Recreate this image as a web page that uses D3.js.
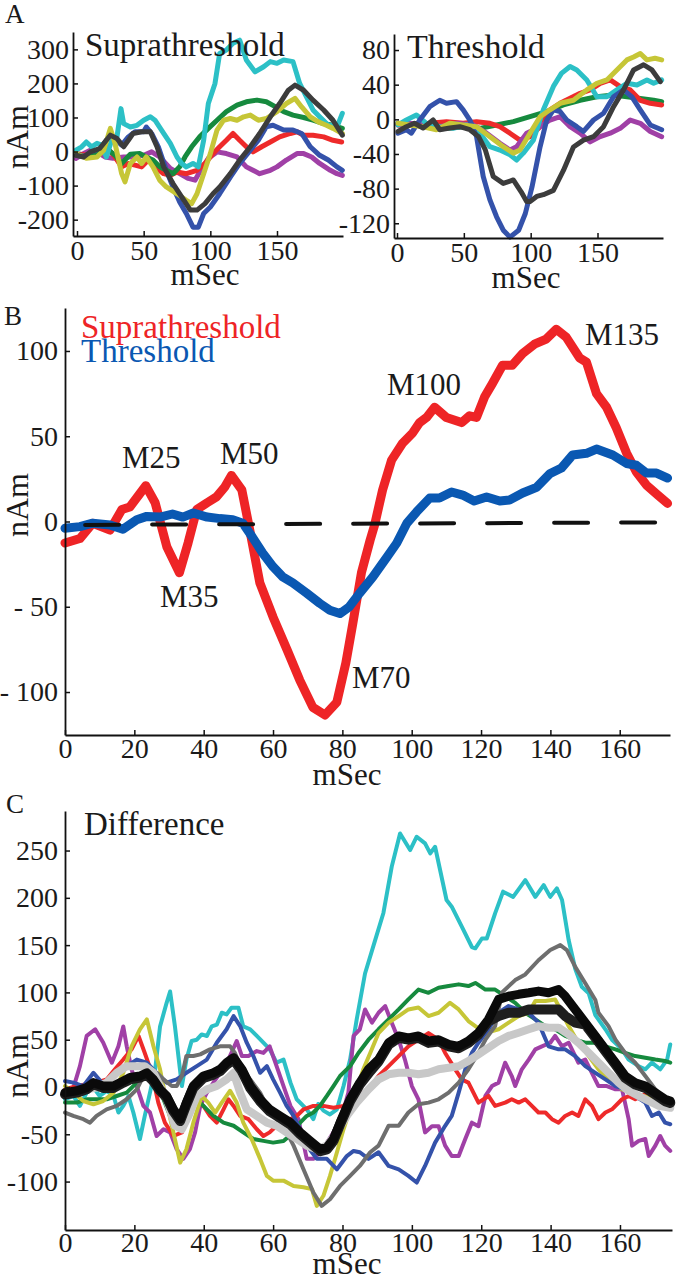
<!DOCTYPE html>
<html><head><meta charset="utf-8">
<script src="https://cdn.jsdelivr.net/npm/d3@7"></script>
<style>
html,body{margin:0;padding:0;background:#fff;}
svg{display:block;}
text{font-family:"Liberation Serif","Tinos","Times New Roman","Nimbus Roman","Nimbus Roman No9 L","DejaVu Serif","Noto Serif",serif;}
</style></head><body>
<svg id="c" width="676" height="1280"></svg>
<script>
// ---------- Panel A (left): Suprathreshold, per subject ----------
const aSupCyan=[[-0.75,4],[3.5,14],[7,28],[11,14],[15,24],[18.5,19],[22,-16],[26,33],[30,43],[33,126],[35,82],[40,72],[45,77],[50,92],[55,102],[58.5,92],[65,53],[70,24],[75,-16],[78.5,-35],[82,-45],[87,-35],[91,-45],[95,33],[98.5,141],[103.5,200],[107,288],[112,298],[117,318],[122,327],[127,269],[133.5,234],[140,249],[145,264],[150,259],[155,269],[162,264],[167,200],[172,161],[177,122],[182,102],[188.5,77],[193.5,77],[196,82],[199,112]];
const aSupGreen=[[-0.75,-11],[7,-16],[15,-11],[22,9],[28.5,-11],[33.5,-35],[40,-8],[47,-6],[52,-16],[57,-25],[62,-45],[67,-55],[72,-65],[77,-45],[81,-16],[86,14],[92,43],[98.5,68],[105,92],[112,117],[120,136],[127,146],[135,151],[142,146],[149,131],[155,117],[162,107],[170,100],[177,92],[185,82],[192,77],[199,68]];
const aSupYellow=[[-0.75,-6],[7,-20],[15,-16],[20,4],[25,68],[28.5,24],[33.5,-65],[36,-89],[40,-35],[45,-16],[48.5,-35],[52,-16],[57,-45],[62,-84],[67,-104],[75,-124],[82,-143],[86,-153],[90,-124],[95,-65],[100,-6],[105,63],[110,92],[115,97],[120,92],[125,102],[130,107],[136,92],[142,97],[150,117],[157,141],[163.5,156],[168.5,131],[175,102],[181,87],[187,77],[192,68],[199,53]];
const aSupRed=[[-0.75,-6],[7,-11],[15,-6],[22,14],[28.5,-16],[33.5,-45],[38.5,-35],[43.5,-40],[48.5,-45],[53.5,-25],[58.5,-45],[65,-65],[70,-70],[75,-60],[82,-65],[90,-55],[96,-35],[102,-6],[107,14],[112,33],[117,53],[122,33],[127,14],[132,-1],[138.5,14],[145,28],[152,43],[160,53],[165,58],[170,48],[177,48],[185,43],[192,33],[198.5,28]];
const aSupBlue=[[-0.75,-6],[7,-16],[15,-6],[22,33],[27,43],[33.5,19],[38.5,43],[43.5,58],[50,58],[52,72],[56,53],[61,14],[67,-55],[72,-104],[77,-148],[82,-182],[87,-222],[91,-222],[95,-182],[100,-163],[107,-124],[115,-75],[122,-35],[130,4],[136,33],[142,73],[147,77],[155,63],[162,63],[168.5,53],[175,14],[182,-11],[188.5,-25],[195,-45],[199,-55]];
const aSupPurple=[[-0.75,-20],[5,-6],[10,4],[15,-1],[21,-16],[27,-20],[35,-16],[42,-16],[50,-11],[56,-1],[62,-16],[70,-50],[77,-65],[83.5,-79],[88.5,-84],[92,-60],[98.5,-20],[105,-1],[112,-6],[120,-16],[127,-45],[132,-55],[137,-65],[145,-55],[150,-45],[157,-25],[165,-6],[170,-6],[176,-16],[182,-35],[190,-55],[195,-65],[199,-70]];
const aSupDark=[[-0.75,-11],[5,-16],[10,-1],[17,9],[25,48],[30,38],[35,14],[38.5,33],[42,53],[48.5,58],[55,58],[60,14],[65,-45],[72,-94],[78.5,-133],[85,-172],[90,-172],[96,-153],[102,-124],[107,-104],[115,-65],[122,-25],[130,14],[137,53],[145,102],[152,141],[158.5,180],[163.5,195],[170,180],[177,151],[185,122],[192,92],[199,48]];
// ---------- Panel A (right): Threshold, per subject ----------
const aThrDark=[[0.75,-14],[7,-8.5],[13,-4.6],[19.5,-10],[27,-0.8],[32,-12],[39.5,-10],[47,-8.5],[54.5,-12],[61,-20],[66,-35],[72,-66],[79.5,-74],[87,-70],[93,-84],[97,-95],[99.5,-95],[104.5,-89],[109.5,-87],[117,-82],[124.5,-59],[132,-32],[139.5,-24],[147,-20],[154.5,-8.5],[162,14.6],[169.5,34],[177,57],[184.5,63],[190.75,57],[197,43.5]];
const aThrBlue=[[0.75,-16],[7,-12],[10.75,-16],[17,-0.8],[24.5,14.6],[32,22],[37,18.5],[44.5,20.4],[49.5,11],[54.5,-0.8],[59.5,-20],[64.5,-66],[69.5,-93],[74.5,-112.5],[79.5,-128],[84.5,-136],[91,-128],[96,-108.7],[101,-78],[107,-32],[112,-0.8],[117,11],[122,9],[127,-0.8],[134.5,-8.5],[139.5,-14],[147,-0.8],[154.5,7],[162,26],[169.5,34],[175.75,26],[182,11],[189.5,-6.5],[198,-12]];
const aThrCyan=[[0.75,-6.5],[7,-0.8],[14.5,5],[22,-4.6],[32,-8.5],[42,-10.4],[52,-6.5],[62,-16],[69.5,-31.6],[77,-35.5],[84.5,-41],[89.5,-47],[94.5,-39],[102,-24],[109.5,11],[117,38],[123,53],[129.5,61],[134.5,57],[142,45.5],[149.5,26],[157,26],[164.5,34],[172,41.6],[179.5,39.7],[187,45.5],[192,41.6],[198,45.5]];
const aThrGreen=[[0.75,-4.6],[12,-6.5],[24.5,-8.5],[37,-10.4],[49.5,-8.5],[62,-10.4],[74.5,-6.5],[87,-2.7],[99.5,3],[112,8.9],[124.5,16.6],[137,22],[149.5,26],[162,28],[172,26],[182,24],[192,22],[198,20.4]];
const aThrRed=[[0.75,-6.5],[12,-6.5],[24.5,-4.6],[37,-2.7],[49.5,-4.6],[59.5,-2.7],[69.5,-4.6],[77,-8.5],[84.5,-16],[92,-24],[99.5,-20],[107,-8.5],[114.5,11],[122,18.5],[129.5,24.3],[137,30],[144.5,34],[152,41.6],[159.5,45.5],[167,37.8],[174.5,34],[182,22],[189.5,18.5],[198,16.6]];
const aThrYellow=[[0.75,-4.6],[9.5,-6.5],[19.5,-8.5],[29.5,-12],[39.5,-4.6],[49.5,-6.5],[59.5,-8.5],[69.5,-20],[79.5,-31.6],[87,-39],[92,-35.5],[99.5,-16],[107,3],[114.5,11],[122,18.5],[132,22],[142,34],[149.5,41.6],[157,45.5],[164.5,57],[172,68.6],[177,72],[182,76],[187,68.6],[193,70.5],[198,68.6]];
const aThrPurple=[[0.75,-6.5],[9.5,-4.6],[19.5,-6.5],[32,-8.5],[44.5,-4.6],[57,-6.5],[67,-16],[77,-27.7],[84.5,-35.5],[89.5,-31.6],[97,-16],[107,-8.5],[114.5,-0.8],[122,3],[129.5,-8.5],[137,-16],[144.5,-26],[152,-20],[159.5,-16],[167,-10.4],[174.5,-0.8],[182,-4.6],[189.5,-14],[198,-20]];
// ---------- Panel B: grand averages ----------
const bSupra=[[0,-12.6],[4.3,-10],[8,-1],[13,-5],[16.4,7],[18.7,8.5],[23.3,21],[26,11],[29.4,-15],[33,-30],[35.5,-12.6],[38,7],[41,11],[43.7,14.4],[46,20],[48,27],[51,18.5],[53.3,-5],[56.2,-36],[60,-56],[64,-75],[67.7,-93],[71.5,-109],[75,-113.5],[78.4,-106],[81,-83],[83,-60],[85.5,-30],[88,-11],[89.3,-2],[91.6,18.5],[94.2,36],[97.4,46],[100.3,52],[102.3,58],[104.3,61],[106.6,67],[110,61],[114.4,58],[116.7,62],[118.7,61],[121,73],[123.3,81],[126.2,91.6],[129,91.6],[132,98.5],[135.4,104],[138.8,107],[141.7,112.7],[144.6,108],[148.4,96],[150.4,93.5],[153.3,75],[156.2,67],[159,55],[162,40],[164.8,29],[167.7,21.4],[171,15.5],[173.8,10.6]];
const bThr=[[0,-4],[4.3,-3],[8,-1],[13,-2],[16.7,-4.5],[20.7,1],[23.6,3],[27.4,2.6],[31,4.4],[34,2.6],[37,5],[41,2.6],[44.7,1.7],[48.4,1],[51.3,-1],[54,-9],[57,-18.5],[60,-26.5],[62.8,-32.5],[65.7,-36],[69.7,-42],[73.5,-48],[76.4,-52],[79.3,-54],[82,-50],[85,-42],[88.8,-32.5],[92.8,-21],[95.7,-12.6],[98.6,-1],[101.4,5.6],[105.2,13.8],[108,13.8],[111.5,17.3],[114.7,15.5],[118,12],[121.6,14.4],[125.4,12],[128.2,12.6],[132,16.7],[136,20],[139.8,28],[143.2,31.4],[146.4,39],[150.4,40],[153.3,42.5],[158,39],[162,34],[164.8,33],[167.7,28.4],[170.6,28.4],[173.8,25.5]];
const bBaseline=[[5.8,-2],[172,-0.5]];
const bLabels=[["M25",122,468],["M50",220,464],["M35",160,607],["M70",352,688],["M100",387,395],["M135",585,345]];
// ---------- Panel C: Difference, per subject + means ----------
const cCyan=[[0,-13],[2.4,-9.5],[4.3,-20],[6.25,-6],[8.2,-0.7],[10,-9.5],[12,-4],[14,-9.5],[15.4,-27],[16.8,-20],[18.3,-9.5],[19.7,-27],[21.6,-55],[23,-30.6],[24.5,-6],[26,18.7],[27.4,64],[29.3,89],[30.3,101],[31.7,64],[33.7,1],[35,29],[36.5,48.6],[38,50],[39.4,55.6],[40.9,53.9],[42.3,64],[43.8,66],[45.2,78.5],[46.6,76.8],[48,83.8],[50,83.8],[51.4,64],[53.4,61],[55.3,54],[57.2,46.8],[59,40],[61,25.7],[63,29],[65,4.6],[66.8,-13],[69.7,-23.6],[71.6,-34],[73,-18],[74.5,-25],[76.4,-29],[78.4,-23.6],[80.3,1],[82.2,29],[84.1,71.5],[86.5,120],[89.4,155],[91.8,184],[94.2,233],[96.6,268],[99.5,250.5],[101.4,264.6],[103.8,257.6],[105.3,247],[106.7,254],[110,197.7],[111.5,190.6],[114.4,169.5],[117.3,148],[118.3,146.6],[120.2,157],[121.6,157],[124,183.6],[126.3,206.5],[129.2,201],[132.7,218.8],[135.6,201],[138,213.5],[139.9,201],[141.8,210],[143.3,197.7],[145.2,155.4],[147.1,125],[149,106],[151,99],[152.9,76],[155.8,61],[157.7,50],[160.6,39.8],[162.5,29],[165.4,22],[167.3,18.7],[169.2,25.7],[171.6,18.7],[173.6,29],[174.5,45]];
const cPurple=[[0,-6],[2,-6],[4.3,22],[6.25,54],[8.7,61],[11,47],[13.5,25.7],[15.4,43],[16.8,64],[17.8,43],[19.2,18.7],[20.7,1],[22.6,-20],[24.5,-27],[26.4,-51.8],[28.4,-44.7],[30.3,-48],[32.2,-65.8],[34.1,-76],[36,-65.8],[37.5,-48],[39,-20],[40.9,-6],[42.8,4.6],[44.7,15],[47.1,29],[49.5,48.6],[51,32.7],[52.9,32.7],[55.3,38],[57.2,36],[59,43],[61,22],[63,1],[65,-20],[67.3,-34],[69.7,-76],[71.6,-76],[73.5,-69],[75.5,-58.8],[77.4,-48],[79.8,-30.6],[81.7,-6],[83.2,54],[85,61],[86.5,82],[88.5,68],[90.4,78.5],[92.3,85.6],[94.2,68],[96.2,50],[98,29],[100,1],[101.9,-13],[103.8,-48],[105.8,-41.5],[107.7,-41.5],[109.6,-62],[111.5,-73],[113.5,-73],[115.4,-55],[117.3,-37.7],[119.2,-41.5],[121.2,-9.5],[123.1,1],[125,4.6],[126.9,25.7],[128.8,11.6],[129.8,1],[131.7,18.7],[133.7,29],[135.6,39.8],[137.5,43],[139.9,46.8],[141.3,54],[143.3,43],[145.2,46.8],[148,25.7],[150,29],[151.9,15],[153.8,1],[156.2,1],[158.7,-2.5],[160.6,-2.5],[162.5,-34],[163.5,-62],[165.4,-57],[167.3,-55],[168.3,-73],[170.2,-62],[171.6,-51.8],[173,-62],[174.5,-67.6]];
const cRed=[[0,-2.5],[3.4,1],[6.25,3],[9.1,4.6],[12,8],[14.4,18.7],[16.8,29],[19.2,39.8],[21.2,54],[23,36],[25,15],[26.9,-16.5],[28.8,-37.7],[31.25,-51.8],[33.7,-48],[35.6,-30.6],[37.5,-13],[39.9,-20],[41.8,-30.6],[43.75,-37.7],[45.7,-23.6],[47.1,-13],[48.6,-20],[50.5,-30.6],[52.9,-34],[55.3,-44.7],[57.2,-51.8],[59,-48],[61,-41],[63,-37.7],[65,-34],[66.8,-30.6],[68.8,-23.6],[71.6,-20],[74.5,-20],[77.4,-22],[80.3,-20],[82.2,-13],[84.6,-9.5],[87.5,-2.5],[90.4,11.6],[93.3,22],[96.2,32.7],[99,43],[101.9,50],[104.8,57],[107.7,50],[109.6,36],[112.5,18.7],[114.4,8],[116.3,4.6],[119.2,-16.5],[122.1,-9.5],[124,-20],[126.9,-16.5],[128.8,-13],[130.8,-16.5],[132.7,-13],[134.6,-20],[136.5,-27],[138.5,-27],[140.4,-34],[142.3,-37.7],[144.2,-30.6],[146.2,-27],[148,-30.6],[150,-13],[151.9,-20],[153.8,-34],[155.8,-27],[157.7,-23.6],[160.6,-13],[162.5,-9.5],[164.4,-13],[166.3,-9.5],[168.3,-6],[171.2,-9.5],[174.5,-13]];
const cGreen=[[0,-16.5],[3.4,-16.5],[6.25,-13],[9.1,-13],[12,-13],[14.9,-9.5],[17.8,-6],[20.7,4.6],[23.6,15],[26.4,4.6],[28.4,-13],[30.3,-30.6],[32.2,-34],[34.1,-23.6],[36,-13],[38,-13],[39.9,-20],[42.8,-30.6],[45.7,-37.7],[48.6,-41],[51.4,-48],[54.3,-55],[57.2,-57],[60,-58.8],[63,-57],[65.9,-48],[67.8,-37.7],[69.7,-30.6],[71.6,-27],[73.5,-20],[75.5,-9.5],[77.4,1],[79.3,11.6],[82.2,22],[84.6,36],[87.5,50],[90.4,61],[93.3,71.5],[96.2,82],[99,92.6],[101.9,103],[104.8,99.6],[107.7,105],[110.6,106.7],[113.5,108.5],[116.3,106.7],[118.3,110],[121.2,103],[124,103],[126.9,96],[129.8,89],[132.7,78.5],[135.6,71.5],[138.5,64.4],[141.3,61],[144.2,54],[147.1,50],[150,46.8],[152.9,46.8],[155.8,43],[158.7,39.8],[161.5,36],[164.4,32.7],[167.3,31],[170.2,29],[173,27.5],[174.5,25.7]];
const cYellow=[[0,1],[2.4,-6],[5.3,-14.8],[8.2,-18.3],[11,-14.8],[14,-6],[16.8,15],[19.2,43],[21.6,61],[23.6,71.5],[25.5,43],[27.4,18.7],[29.3,-16.5],[31.25,-48],[33.2,-80],[35,-65.8],[37,-37.7],[39.4,-9.5],[41.3,-16.5],[43.3,-27],[45.2,-16.5],[47.6,-4],[49.5,-16.5],[51.4,-37.7],[53.8,-55],[56.25,-76],[58.2,-94],[60,-99],[63,-99],[65.9,-104.6],[68.75,-106],[71.2,-108],[72.6,-125.7],[74.5,-115],[76.4,-94],[78.4,-69],[80.3,-44.7],[82.2,-23.6],[84.1,-2.5],[86,18.7],[88,36],[90.4,57],[93.3,68],[96.2,75],[99,82],[101.9,84],[104.8,75],[107.7,78.5],[111,89],[113.5,82],[116.3,69.7],[118.3,64.4],[121.2,57],[125,61],[127.9,68],[130.8,75],[133.7,78.5],[135.6,91],[138.5,91],[141.3,92.6],[142.3,85.6],[145.2,64.4],[148,46.8],[151,32.7],[153.8,18.7],[156.7,8],[158.7,3],[160.6,-2.5],[163.5,-6],[166.3,-9.5],[169.2,-11],[172.1,-13],[174.5,-14.8]];
const cBlue=[[0,6.3],[2.4,4.6],[5.3,1],[8.2,15],[10.6,4.6],[13,6.3],[15.4,15],[17.8,22],[20.7,29],[23.6,25.7],[26.4,15],[29.3,4.6],[32.2,8],[35,15],[38,22],[40.9,29],[43.75,46.8],[46.6,61],[48.6,75],[50.5,64.4],[52.4,46.8],[54.3,32.7],[56.25,15],[58.2,22],[60,8],[62,-6],[63.9,-20],[65.9,-30.6],[67.8,-44.7],[69.7,-62],[72.6,-76],[75.5,-76],[78.4,-87],[81.25,-73],[83.2,-67.6],[85,-69],[87.5,-76],[90.4,-69],[93.3,-83.5],[96.2,-87],[99,-94],[101.4,-101],[103.8,-83.5],[106.7,-58.8],[109.6,-41],[111.5,-30.6],[113.5,-6],[115.4,18.7],[117.3,36],[119.2,46.8],[122.1,61],[125,78.5],[127.9,85.6],[130.8,82],[133.7,78.5],[136.5,68],[139.4,43],[142.3,39.8],[144.2,39.8],[147.1,32.7],[150,22],[152.9,15],[155.8,8],[158.7,1],[161.5,-2.5],[164.4,-9.5],[167.3,-16.5],[169.2,-30.6],[171.2,-27],[173,-37.7],[174.5,-39.4]];
const cGrey=[[0,-27],[2.4,-30.6],[5.3,-34],[7.2,-37.7],[9.1,-30.6],[12,-23.6],[14.9,-20],[17.8,-13],[20.7,-2.5],[23.6,18.7],[26.4,15],[28.4,8],[30.8,1],[32.2,1],[33.7,11.6],[35,32.7],[37,32.7],[39,34.5],[41.8,39.8],[44.7,43],[47.6,43],[49,36],[51,18.7],[53.4,8],[56.25,-6],[58.2,-20],[60,-30.6],[63,-41],[65.9,-62],[68.75,-87],[71.6,-111.6],[74,-125.7],[76.4,-118.7],[79.3,-104.6],[82.2,-94],[85,-83.5],[88,-69],[90.4,-62],[93.3,-41],[96.2,-41],[99,-27],[101.9,-18.3],[104.8,-16.5],[107.7,-13],[110.6,-6],[113.5,4.6],[116.3,18.7],[119.2,36],[121.2,50],[124,64.4],[126,100],[129.8,113],[132.7,119],[136.5,134],[139.9,144.8],[142.8,150],[144.7,144.8],[147.1,127],[150,109.6],[152.9,92],[153.8,78.5],[156.7,64.4],[158.7,50],[161.5,36],[164.4,25.7],[167.3,11.6],[170.2,-2.5],[173,-13],[174.5,-20]];
const cLightGrey=[[0,-6],[3.4,-6],[6.25,-2.5],[9.1,-0.7],[12,4.6],[14.9,15],[17.8,22],[20.7,22],[23,22],[25.5,15],[27.4,1],[29.3,-13],[31.7,-41],[33.7,-44.7],[35.6,-30.6],[38,-9.5],[40.9,-2.5],[43.75,1],[46.6,8],[48.6,15],[50.5,-6],[52.4,-23.6],[55.3,-30.6],[58.2,-37.7],[61,-41],[63.9,-48],[66.8,-55],[69.7,-62],[72.6,-65.8],[75.5,-62],[78.4,-48],[81.25,-30.6],[84.1,-16.5],[87.5,-2.5],[90.4,8],[93.3,13.4],[96.2,15],[99,15],[101.9,13.4],[104.8,15],[107.7,18.7],[110.6,20.4],[113.5,22],[116.3,27.5],[119.2,34.5],[122.1,41.5],[125,48.6],[127.9,54],[130.8,57.4],[133.7,61],[136.5,64.4],[139.4,62.7],[142.3,62.7],[145.2,55.6],[148,46.8],[151,36],[153.8,25.7],[156.7,15],[159.6,4.6],[162.5,-4],[165.4,-9.5],[168.3,-14.8],[171.2,-20],[174.5,-22]];
const cMean=[[0,-6],[3.4,-4],[6.25,-0.7],[8.2,4.6],[11,1],[14,1],[16.8,6.3],[18.75,10],[21.6,11.6],[23.6,15],[25.5,8],[27.4,-2.5],[29.3,-9.5],[31.25,-23.6],[33.2,-34],[35,-16.5],[37,1],[39.9,11.6],[42.8,15],[44.7,18.7],[46.6,25.7],[48.6,31],[51,18.7],[53.4,1],[56.25,-13],[59,-23.6],[62,-30.6],[65,-37.7],[67.8,-48],[70.7,-57],[73.6,-65.8],[75.5,-64],[77.4,-55],[79.3,-37.7],[82.2,-13],[85,4.6],[87.5,18.7],[90.4,29],[93.3,46.8],[96.2,54],[99,52],[101.9,54],[104.8,48.6],[107.7,50],[110.6,45],[113.5,43],[116.3,48.6],[119.2,57.4],[122.1,71.5],[125,92.6],[127.9,96],[130.8,98],[133.7,99.6],[136.5,101.4],[139.4,99.6],[142.3,103],[144.2,96],[147.1,82],[150,68],[152.9,54],[155.8,39.8],[158.7,25.7],[161.5,11.6],[164.4,4.6],[167.3,1],[170.2,-6],[173,-13],[174.5,-14.8]];
const cMean2=[[0,-8],[3.4,-6],[6.25,-2.5],[8.2,3],[11,-1],[14,-1],[16.8,4.6],[18.75,8],[21.6,10],[23.6,13],[25.5,6],[27.4,-4],[29.3,-11],[31.25,-25.6],[33.2,-36],[35,-18.5],[37,-1],[39.9,9.6],[42.8,13],[44.7,16.7],[46.6,23.7],[48.6,29],[51,16.7],[53.4,-1],[56.25,-15],[59,-25.6],[62,-32.6],[65,-39.7],[67.8,-50],[70.7,-59],[73.6,-67.8],[75.5,-66],[77.4,-57],[79.3,-39.7],[82.2,-15],[85,2.6],[88,16.7],[90.4,27],[93.3,44.8],[96.2,52],[99,50],[101.9,52],[104.8,46.6],[107.7,48],[110.6,43],[113.5,41],[116.3,46.6],[119.2,55.4],[122.1,69.5],[125,75],[127.9,78.5],[130.8,78.5],[133.7,82],[136.5,82],[139.4,82],[142.3,82],[144.2,75],[147.1,68],[150,66],[152.9,52],[155.8,37.8],[158.7,23.7],[161.5,9.6],[164.4,2.6],[167.3,-1],[170.2,-8],[173,-15],[174.5,-16.8]];

// ---------- tick values / labels ----------
const aLeftYTicks=[300,200,100,0,-100,-200];
const aRightYTicks=[80,40,0,-40,-80,-120];
const aXTicks=[0,50,100,150];
const bYTicks=[100,50,0,-50,-100];
const bYLabels=["100","50","0","- 50","- 100"];
const bcXTicks=[0,20,40,60,80,100,120,140,160];
const cYTicks=[250,200,150,100,50,0,-50,-100];

// ---------- colours ----------
const COL={cyan:"#2cc0c6",green:"#168a3e",yellow:"#c6c637",red:"#ee2a2a",blue:"#3452aa",purple:"#a040a6",darkA:"#3c3c3c",grey:"#6e6e6e",light:"#c8c8c8",black:"#0a0a0a",bRed:"#ee2426",bBlue:"#0a58b2"};
const FONT='"Liberation Serif","Tinos","Times New Roman","Nimbus Roman","Nimbus Roman No9 L","DejaVu Serif","Noto Serif",serif';

const svg=d3.select("#c");

function axes(g,x,y,o){
  const xa=d3.axisBottom(x).tickValues(o.xTicks).tickSizeInner(-5).tickSizeOuter(0).tickPadding(o.xPad);
  const ya=d3.axisLeft(y).tickValues(o.yTicks).tickSizeInner(-5).tickSizeOuter(0).tickPadding(o.yPad);
  if(o.yFmt) ya.tickFormat(o.yFmt); else ya.tickFormat(d=>String(d));
  const gx=g.append("g").attr("transform",`translate(0,${y.range()[0]})`).call(xa);
  const gy=g.append("g").attr("transform",`translate(${x.range()[0]},0)`).call(ya);
  [gx,gy].forEach(a=>{
    a.attr("font-family",FONT).attr("font-size",o.fs);
    a.select(".domain").attr("stroke","#111").attr("stroke-width",1.8);
    a.selectAll(".tick line").attr("stroke","#111").attr("stroke-width",1.5);
    a.selectAll(".tick text").attr("fill","#1a1a1a");
  });
}
function lines(g,x,y,series){
  const ln=d3.line().x(d=>x(d[0])).y(d=>y(d[1]));
  series.forEach(s=>{
    g.append("path").attr("d",ln(s.data)).attr("fill","none").attr("stroke",s.color)
     .attr("stroke-width",s.w).attr("stroke-linejoin","round").attr("stroke-linecap","round")
     .attr("stroke-dasharray",s.dash||null);
  });
}
function txt(x,y,s,fs,opt={}){
  const t=svg.append("text").attr("x",x).attr("y",y).attr("font-size",fs).attr("font-family",FONT)
    .attr("fill",opt.fill||"#1a1a1a").attr("text-anchor",opt.anchor||"start").text(s);
  if(opt.rot) t.attr("transform",`rotate(${opt.rot},${x},${y})`);
  return t;
}

// ===== Panel A left =====
const xA1=d3.scaleLinear().domain([-3,199.5]).range([73,343]);
const yA1=d3.scaleLinear().domain([-248,351]).range([236,32]);
const gA1=svg.append("g");
lines(gA1,xA1,yA1,[
  {data:aSupPurple,color:COL.purple,w:5},{data:aSupRed,color:COL.red,w:5},
  {data:aSupBlue,color:COL.blue,w:5},{data:aSupGreen,color:COL.green,w:5},
  {data:aSupCyan,color:COL.cyan,w:5},{data:aSupYellow,color:COL.yellow,w:5},
  {data:aSupDark,color:COL.darkA,w:5}]);
axes(gA1,xA1,yA1,{xTicks:aXTicks,yTicks:aLeftYTicks,xPad:4,yPad:4,fs:28});
txt(85,56,"Suprathreshold",33);
txt(205,285,"mSec",31,{anchor:"middle"});
txt(28,137,"nAm",32,{anchor:"middle",rot:-90});
txt(5,23,"A",27);

// ===== Panel A right =====
const xA2=d3.scaleLinear().domain([-2.25,199]).range([394,663]);
const yA2=d3.scaleLinear().domain([-137,98.5]).range([238,34]);
const gA2=svg.append("g");
lines(gA2,xA2,yA2,[
  {data:aThrGreen,color:COL.green,w:5},{data:aThrRed,color:COL.red,w:5},
  {data:aThrPurple,color:COL.purple,w:5},{data:aThrCyan,color:COL.cyan,w:5},
  {data:aThrBlue,color:COL.blue,w:5},{data:aThrYellow,color:COL.yellow,w:5},
  {data:aThrDark,color:COL.darkA,w:5}]);
axes(gA2,xA2,yA2,{xTicks:aXTicks,yTicks:aRightYTicks,xPad:4,yPad:4,fs:28});
txt(407,58,"Threshold",34);
txt(526,288,"mSec",31,{anchor:"middle"});

// ===== Panel B =====
const xB=d3.scaleLinear().domain([0,174.5]).range([65,670]);
const yB=d3.scaleLinear().domain([-125.2,125.2]).range([735,308]);
const gB=svg.append("g");
lines(gB,xB,yB,[
  {data:bSupra,color:COL.bRed,w:9},
  {data:bThr,color:COL.bBlue,w:9},
  {data:bBaseline,color:"#111",w:4,dash:"34,33"}]);
axes(gB,xB,yB,{xTicks:bcXTicks,yTicks:bYTicks,yFmt:(d,i)=>bYLabels[i],xPad:3,yPad:7,fs:28});
txt(81,338,"Suprathreshold",33,{fill:COL.bRed});
txt(81,362,"Threshold",33,{fill:COL.bBlue});
bLabels.forEach(l=>txt(l[1],l[2],l[0],31));
txt(347,785,"mSec",31,{anchor:"middle"});
txt(28,505,"nAm",32,{anchor:"middle",rot:-90});
txt(4,325,"B",27);

// ===== Panel C =====
const xC=d3.scaleLinear().domain([0,175]).range([65,672]);
const yC=d3.scaleLinear().domain([-151.2,291.8]).range([1230,811]);
const gC=svg.append("g");
lines(gC,xC,yC,[
  {data:cCyan,color:COL.cyan,w:4},{data:cPurple,color:COL.purple,w:4},
  {data:cRed,color:COL.red,w:4},{data:cGreen,color:COL.green,w:4},
  {data:cYellow,color:COL.yellow,w:4},{data:cBlue,color:COL.blue,w:4},
  {data:cGrey,color:COL.grey,w:4},{data:cLightGrey,color:COL.light,w:8},
  {data:cMean2,color:"#1e1e1e",w:10},{data:cMean,color:COL.black,w:9}]);
axes(gC,xC,yC,{xTicks:bcXTicks,yTicks:cYTicks,xPad:2,yPad:7,fs:28});
txt(84,835,"Difference",33);
txt(347,1274,"mSec",31,{anchor:"middle"});
txt(28,1066,"nAm",32,{anchor:"middle",rot:-90});
txt(6,813,"C",27);
</script>
</body></html>
